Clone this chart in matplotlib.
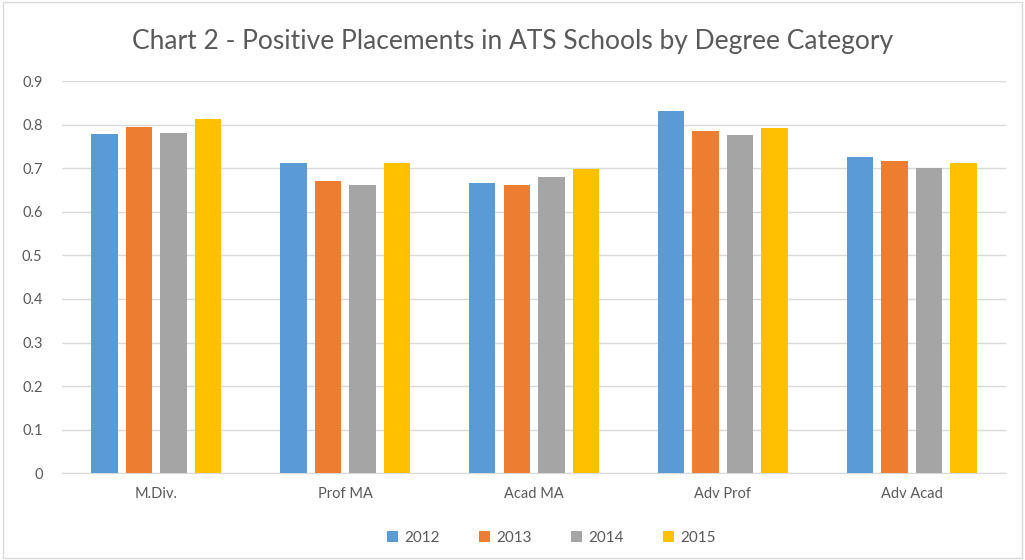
import matplotlib
matplotlib.use("Agg")
import matplotlib.pyplot as plt
import numpy as np

categories = ["M.Div.", "Prof MA", "Acad MA", "Adv Prof", "Adv Acad"]
years = ["2012", "2013", "2014", "2015"]
v2012 = [0.779, 0.712, 0.666, 0.831, 0.727]
v2013 = [0.795, 0.672, 0.661, 0.786, 0.717]
v2014 = [0.782, 0.661, 0.679, 0.776, 0.700]
v2015 = [0.813, 0.712, 0.699, 0.793, 0.713]
yticks = [0, 0.1, 0.2, 0.3, 0.4, 0.5, 0.6, 0.7, 0.8, 0.9]
ytick_labels = ["0", "0.1", "0.2", "0.3", "0.4", "0.5", "0.6", "0.7", "0.8", "0.9"]

colors = ["#5B9BD5", "#ED7D31", "#A5A5A5", "#FFC000"]
series = [v2012, v2013, v2014, v2015]

plt.rcParams['font.family'] = ['Lato', 'DejaVu Sans']

fig = plt.figure(figsize=(10.25, 5.6), dpi=100)
ax = fig.add_axes([0.0605, 0.155, 0.921, 0.7])

x = np.arange(len(categories))
step = 0.183
width = 0.14
for i, (vals, c, yr) in enumerate(zip(series, colors, years)):
    ax.bar(x + (i - 1.5) * step, vals, width, color=c, label=yr, zorder=3)

ax.set_xlim(-0.5, len(categories) - 0.5)
ax.set_ylim(0, 0.9)
ax.set_yticks(yticks)
ax.set_yticklabels(ytick_labels)
ax.set_xticks(x)
ax.set_xticklabels(categories)
ax.yaxis.grid(True, color="#D9D9D9", linewidth=1, zorder=0)
for s in ["top", "right", "left"]:
    ax.spines[s].set_visible(False)
ax.spines["bottom"].set_color("#D9D9D9")
ax.tick_params(axis="both", length=0, colors="#595959", labelsize=10.5)
ax.tick_params(axis="y", pad=14)
ax.tick_params(axis="x", pad=10)

fig.text(0.5, 0.925, "Chart 2 - Positive Placements in ATS Schools by Degree Category",
         ha="center", va="center", fontsize=19, color="#595959")

leg = fig.legend(loc="center", bbox_to_anchor=(0.538, 0.04), ncol=4, frameon=False,
                 fontsize=11, handlelength=0.7, handleheight=0.7, columnspacing=2.6,
                 handletextpad=0.4)
for t in leg.get_texts():
    t.set_color("#595959")

border = plt.Rectangle((0.003, 0.003), 0.994, 0.994, transform=fig.transFigure,
                       fill=False, edgecolor="#D9D9D9", linewidth=1)
fig.patches.append(border)

fig.savefig("out.png", dpi=100)
